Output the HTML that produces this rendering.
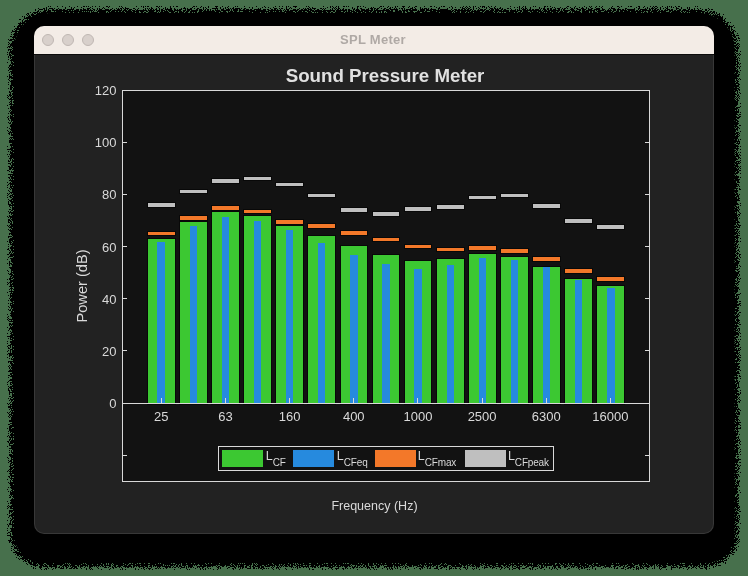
<!DOCTYPE html>
<html><head><meta charset="utf-8"><title>SPL Meter</title>
<style>
html,body{margin:0;padding:0;}
body{width:748px;height:576px;overflow:hidden;background:#47704c;position:relative;font-family:"Liberation Sans",sans-serif;}
#shadow{position:absolute;left:0;top:0;width:748px;height:576px;}
#win{position:absolute;left:34px;top:26px;width:680px;height:508px;border-radius:10px;overflow:hidden;background:#222222;}
#winb{position:absolute;left:34px;top:55px;width:678px;height:478px;border:1px solid rgba(255,255,255,0.10);border-top:none;border-radius:0 0 10px 10px;pointer-events:none;}
#tb{position:absolute;left:0;top:0;width:680px;height:28px;background:#f3ece6;border-bottom:1px solid #0c0c0c;box-sizing:content-box;}
#tb .c{position:absolute;top:7.5px;width:10px;height:10px;border-radius:50%;background:#d8d0cb;border:1px solid #bfb7b2;}
#ttl{position:absolute;left:-0.7px;width:680px;top:5.5px;text-align:center;font-weight:bold;font-size:13px;line-height:15px;letter-spacing:0.29px;color:#afa9a5;}
#plot{position:absolute;left:0;top:0;width:748px;height:576px;}
.yl{position:absolute;left:60px;width:56.5px;text-align:right;font-size:13px;line-height:15px;color:#d9d9d9;}
.xl{position:absolute;top:409px;width:60px;text-align:center;font-size:13px;line-height:15px;color:#d9d9d9;}
#title{position:absolute;left:185px;width:400px;top:65.2px;text-align:center;font-weight:bold;font-size:18.73px;line-height:21px;color:#e0e0e0;white-space:nowrap;}
#xlab{position:absolute;left:274.5px;width:200px;top:499px;text-align:center;font-size:12.5px;line-height:15px;color:#d9d9d9;white-space:nowrap;}
#ylab{position:absolute;left:-18px;top:277px;width:200px;height:18px;text-align:center;font-size:14.6px;line-height:18px;color:#d9d9d9;transform:rotate(-90deg);white-space:nowrap;}
.lg{position:absolute;top:449px;font-size:12.5px;line-height:14px;color:#d9d9d9;white-space:nowrap;}
.lg sub{font-size:10px;letter-spacing:-0.17px;vertical-align:baseline;position:relative;top:6px;}
.t{will-change:transform;}
#txt{position:absolute;left:0;top:0;width:748px;height:576px;}
</style></head><body>
<svg id="shadow" width="748" height="576" viewBox="0 0 748 576">
<defs>
<filter id="dith" x="0" y="0" width="748" height="576" filterUnits="userSpaceOnUse" color-interpolation-filters="sRGB">
<feGaussianBlur in="SourceAlpha" stdDeviation="1.8" result="b"/>
<feTurbulence type="fractalNoise" baseFrequency="1.37" numOctaves="1" seed="11" result="n"/>
<feColorMatrix in="n" type="matrix" values="0 0 0 0 0  0 0 0 0 0  0 0 0 0 0  4.4 0 0 0 -1.7" result="na"/>
<feComposite in="b" in2="na" operator="arithmetic" k1="0" k2="1" k3="-1" k4="0.47" result="s"/>
<feComponentTransfer in="s" result="t"><feFuncA type="discrete" tableValues="0 1"/></feComponentTransfer>
<feColorMatrix in="t" type="matrix" values="0 0 0 0 0  0 0 0 0 0  0 0 0 0 0  0 0 0 1 0"/>
</filter>
</defs>
<path d="M50,9 H698.4 A40,40 0 0 1 738.4,49 V534.2 A33,33 0 0 1 705.4,567.2 H43 A33,33 0 0 1 10,534.2 V49 A40,40 0 0 1 50,9 Z" fill="#000" filter="url(#dith)"/>
<path d="M50,13 H698.5 A36,36 0 0 1 734.5,49 V534 A29,29 0 0 1 705.5,563 H43 A29,29 0 0 1 14,534 V49 A36,36 0 0 1 50,13 Z" fill="#000"/>
</svg>
<div id="win">
<div id="tb"><div class="c" style="left:8px"></div><div class="c" style="left:28px"></div><div class="c" style="left:48px"></div><div id="ttl" class="t">SPL Meter</div></div>
</div>
<div id="winb"></div>
<svg id="plot" width="748" height="576" viewBox="0 0 748 576" shape-rendering="crispEdges">
<rect x="122" y="90" width="528" height="392" fill="#121212"/>
<rect x="147" y="238" width="29" height="167" fill="#080808"/>
<rect x="148" y="239" width="27" height="164" fill="#3cc832"/>
<rect x="157" y="242" width="8" height="161" fill="#268ade"/>
<rect x="147" y="231" width="29" height="5" fill="#080808"/>
<rect x="148" y="232" width="27" height="3" fill="#f37829"/>
<rect x="147" y="202" width="29" height="6" fill="#080808"/>
<rect x="148" y="203" width="27" height="4" fill="#bfbfbf"/>
<rect x="179" y="221" width="29" height="184" fill="#080808"/>
<rect x="180" y="222" width="27" height="181" fill="#3cc832"/>
<rect x="190" y="226" width="7" height="177" fill="#268ade"/>
<rect x="179" y="215" width="29" height="6" fill="#080808"/>
<rect x="180" y="216" width="27" height="4" fill="#f37829"/>
<rect x="179" y="189" width="29" height="5" fill="#080808"/>
<rect x="180" y="190" width="27" height="3" fill="#bfbfbf"/>
<rect x="211" y="211" width="29" height="194" fill="#080808"/>
<rect x="212" y="212" width="27" height="191" fill="#3cc832"/>
<rect x="222" y="217" width="7" height="186" fill="#268ade"/>
<rect x="211" y="205" width="29" height="6" fill="#080808"/>
<rect x="212" y="206" width="27" height="4" fill="#f37829"/>
<rect x="211" y="178" width="29" height="6" fill="#080808"/>
<rect x="212" y="179" width="27" height="4" fill="#bfbfbf"/>
<rect x="243" y="215" width="29" height="190" fill="#080808"/>
<rect x="244" y="216" width="27" height="187" fill="#3cc832"/>
<rect x="254" y="221" width="7" height="182" fill="#268ade"/>
<rect x="243" y="209" width="29" height="5" fill="#080808"/>
<rect x="244" y="210" width="27" height="3" fill="#f37829"/>
<rect x="243" y="176" width="29" height="5" fill="#080808"/>
<rect x="244" y="177" width="27" height="3" fill="#bfbfbf"/>
<rect x="275" y="225" width="29" height="180" fill="#080808"/>
<rect x="276" y="226" width="27" height="177" fill="#3cc832"/>
<rect x="286" y="230" width="7" height="173" fill="#268ade"/>
<rect x="275" y="219" width="29" height="6" fill="#080808"/>
<rect x="276" y="220" width="27" height="4" fill="#f37829"/>
<rect x="275" y="182" width="29" height="5" fill="#080808"/>
<rect x="276" y="183" width="27" height="3" fill="#bfbfbf"/>
<rect x="307" y="235" width="29" height="170" fill="#080808"/>
<rect x="308" y="236" width="27" height="167" fill="#3cc832"/>
<rect x="318" y="243" width="7" height="160" fill="#268ade"/>
<rect x="307" y="223" width="29" height="6" fill="#080808"/>
<rect x="308" y="224" width="27" height="4" fill="#f37829"/>
<rect x="307" y="193" width="29" height="5" fill="#080808"/>
<rect x="308" y="194" width="27" height="3" fill="#bfbfbf"/>
<rect x="340" y="245" width="28" height="160" fill="#080808"/>
<rect x="341" y="246" width="26" height="157" fill="#3cc832"/>
<rect x="350" y="255" width="8" height="148" fill="#268ade"/>
<rect x="340" y="230" width="28" height="6" fill="#080808"/>
<rect x="341" y="231" width="26" height="4" fill="#f37829"/>
<rect x="340" y="207" width="28" height="6" fill="#080808"/>
<rect x="341" y="208" width="26" height="4" fill="#bfbfbf"/>
<rect x="372" y="254" width="28" height="151" fill="#080808"/>
<rect x="373" y="255" width="26" height="148" fill="#3cc832"/>
<rect x="382" y="264" width="8" height="139" fill="#268ade"/>
<rect x="372" y="237" width="28" height="5" fill="#080808"/>
<rect x="373" y="238" width="26" height="3" fill="#f37829"/>
<rect x="372" y="211" width="28" height="6" fill="#080808"/>
<rect x="373" y="212" width="26" height="4" fill="#bfbfbf"/>
<rect x="404" y="260" width="28" height="145" fill="#080808"/>
<rect x="405" y="261" width="26" height="142" fill="#3cc832"/>
<rect x="414" y="269" width="8" height="134" fill="#268ade"/>
<rect x="404" y="244" width="28" height="5" fill="#080808"/>
<rect x="405" y="245" width="26" height="3" fill="#f37829"/>
<rect x="404" y="206" width="28" height="6" fill="#080808"/>
<rect x="405" y="207" width="26" height="4" fill="#bfbfbf"/>
<rect x="436" y="258" width="29" height="147" fill="#080808"/>
<rect x="437" y="259" width="27" height="144" fill="#3cc832"/>
<rect x="447" y="265" width="7" height="138" fill="#268ade"/>
<rect x="436" y="247" width="29" height="5" fill="#080808"/>
<rect x="437" y="248" width="27" height="3" fill="#f37829"/>
<rect x="436" y="204" width="29" height="6" fill="#080808"/>
<rect x="437" y="205" width="27" height="4" fill="#bfbfbf"/>
<rect x="468" y="253" width="29" height="152" fill="#080808"/>
<rect x="469" y="254" width="27" height="149" fill="#3cc832"/>
<rect x="479" y="258" width="7" height="145" fill="#268ade"/>
<rect x="468" y="245" width="29" height="6" fill="#080808"/>
<rect x="469" y="246" width="27" height="4" fill="#f37829"/>
<rect x="468" y="195" width="29" height="5" fill="#080808"/>
<rect x="469" y="196" width="27" height="3" fill="#bfbfbf"/>
<rect x="500" y="256" width="29" height="149" fill="#080808"/>
<rect x="501" y="257" width="27" height="146" fill="#3cc832"/>
<rect x="511" y="260" width="7" height="143" fill="#268ade"/>
<rect x="500" y="248" width="29" height="6" fill="#080808"/>
<rect x="501" y="249" width="27" height="4" fill="#f37829"/>
<rect x="500" y="193" width="29" height="5" fill="#080808"/>
<rect x="501" y="194" width="27" height="3" fill="#bfbfbf"/>
<rect x="532" y="266" width="29" height="139" fill="#080808"/>
<rect x="533" y="267" width="27" height="136" fill="#3cc832"/>
<rect x="543" y="267" width="7" height="136" fill="#268ade"/>
<rect x="532" y="256" width="29" height="6" fill="#080808"/>
<rect x="533" y="257" width="27" height="4" fill="#f37829"/>
<rect x="532" y="203" width="29" height="6" fill="#080808"/>
<rect x="533" y="204" width="27" height="4" fill="#bfbfbf"/>
<rect x="564" y="278" width="29" height="127" fill="#080808"/>
<rect x="565" y="279" width="27" height="124" fill="#3cc832"/>
<rect x="575" y="280" width="7" height="123" fill="#268ade"/>
<rect x="564" y="268" width="29" height="6" fill="#080808"/>
<rect x="565" y="269" width="27" height="4" fill="#f37829"/>
<rect x="564" y="218" width="29" height="6" fill="#080808"/>
<rect x="565" y="219" width="27" height="4" fill="#bfbfbf"/>
<rect x="596" y="285" width="29" height="120" fill="#080808"/>
<rect x="597" y="286" width="27" height="117" fill="#3cc832"/>
<rect x="607" y="288" width="8" height="115" fill="#268ade"/>
<rect x="596" y="276" width="29" height="6" fill="#080808"/>
<rect x="597" y="277" width="27" height="4" fill="#f37829"/>
<rect x="596" y="224" width="29" height="6" fill="#080808"/>
<rect x="597" y="225" width="27" height="4" fill="#bfbfbf"/>
<rect x="122" y="90" width="528" height="1" fill="#d9d9d9"/>
<rect x="122" y="481" width="528" height="1" fill="#d9d9d9"/>
<rect x="122" y="90" width="1" height="392" fill="#d9d9d9"/>
<rect x="649" y="90" width="1" height="392" fill="#d9d9d9"/>
<rect x="122" y="403" width="528" height="1" fill="#d9d9d9"/>
<rect x="123" y="142" width="4" height="1" fill="#d9d9d9"/>
<rect x="645" y="142" width="4" height="1" fill="#d9d9d9"/>
<rect x="123" y="194" width="4" height="1" fill="#d9d9d9"/>
<rect x="645" y="194" width="4" height="1" fill="#d9d9d9"/>
<rect x="123" y="246" width="4" height="1" fill="#d9d9d9"/>
<rect x="645" y="246" width="4" height="1" fill="#d9d9d9"/>
<rect x="123" y="298" width="4" height="1" fill="#d9d9d9"/>
<rect x="645" y="298" width="4" height="1" fill="#d9d9d9"/>
<rect x="123" y="350" width="4" height="1" fill="#d9d9d9"/>
<rect x="645" y="350" width="4" height="1" fill="#d9d9d9"/>
<rect x="123" y="455" width="4" height="1" fill="#d9d9d9"/>
<rect x="645" y="455" width="4" height="1" fill="#d9d9d9"/>
<rect x="161" y="398" width="1" height="5" fill="#d9d9d9"/>
<rect x="225" y="398" width="1" height="5" fill="#d9d9d9"/>
<rect x="289" y="398" width="1" height="5" fill="#d9d9d9"/>
<rect x="353" y="398" width="1" height="5" fill="#d9d9d9"/>
<rect x="417" y="398" width="1" height="5" fill="#d9d9d9"/>
<rect x="482" y="398" width="1" height="5" fill="#d9d9d9"/>
<rect x="546" y="398" width="1" height="5" fill="#d9d9d9"/>
<rect x="610" y="398" width="1" height="5" fill="#d9d9d9"/>
<rect x="218" y="446" width="336" height="25" fill="#121212" stroke="none"/>
<rect x="218.5" y="446.5" width="335" height="24" fill="none" stroke="#d9d9d9" stroke-width="1"/>
<rect x="222" y="450" width="41" height="17" fill="#3cc832"/>
<rect x="293" y="450" width="41" height="17" fill="#268ade"/>
<rect x="375" y="450" width="41" height="17" fill="#f37829"/>
<rect x="465" y="450" width="41" height="17" fill="#bfbfbf"/>
</svg>
<div id="txt" class="t">
<div class="yl" style="top:83px">120</div><div class="yl" style="top:135px">100</div><div class="yl" style="top:187px">80</div><div class="yl" style="top:240px">60</div><div class="yl" style="top:292px">40</div><div class="yl" style="top:344px">20</div><div class="yl" style="top:396px">0</div>
<div class="xl" style="left:131.30px">25</div><div class="xl" style="left:195.46px">63</div><div class="xl" style="left:259.62px">160</div><div class="xl" style="left:323.78px">400</div><div class="xl" style="left:387.94px">1000</div><div class="xl" style="left:452.10px">2500</div><div class="xl" style="left:516.26px">6300</div><div class="xl" style="left:580.42px">16000</div>
<div id="title">Sound Pressure Meter</div>
<div id="xlab">Frequency (Hz)</div>
<div id="ylab">Power (dB)</div>
<div class="lg" style="left:265.8px">L<sub>CF</sub></div>
<div class="lg" style="left:336.8px">L<sub>CFeq</sub></div>
<div class="lg" style="left:417.8px">L<sub>CFmax</sub></div>
<div class="lg" style="left:507.9px">L<sub>CFpeak</sub></div>
</div>
</body></html>
